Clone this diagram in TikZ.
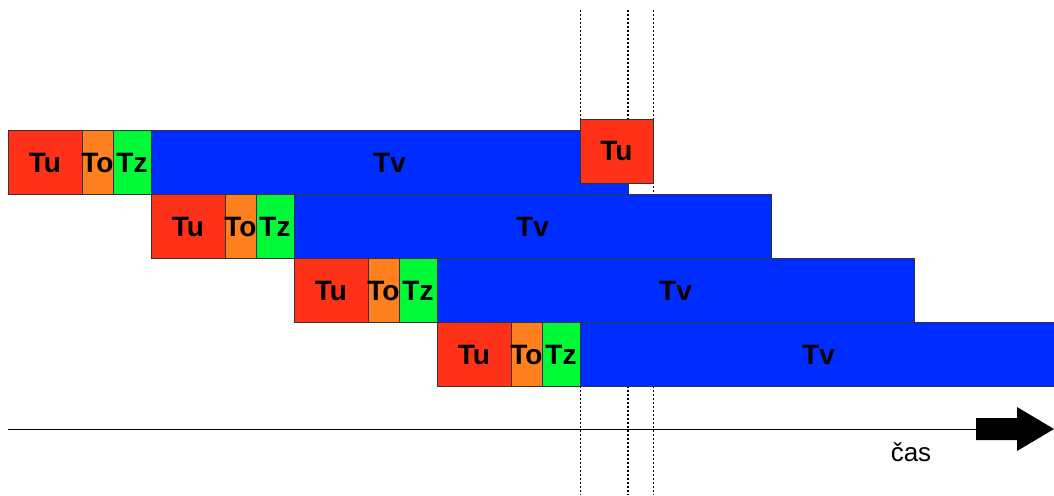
\documentclass[tikz,border=0pt]{standalone}
\usepackage{fontspec}
\setmainfont{Liberation Sans}
\usetikzlibrary{positioning,backgrounds}

\definecolor{phU}{RGB}{255,50,25}
\definecolor{phO}{RGB}{255,128,30}
\definecolor{phZ}{RGB}{0,250,55}
\definecolor{phV}{RGB}{0,45,255}

\tikzset{
  seg/.style={draw=black!80, line width=0.5pt, minimum height=32pt,
    inner sep=0pt, outer sep=0pt, font=\bfseries\fontsize{14}{16}\selectfont},
  phaseU/.style={seg, fill=phU, minimum width=37pt},
  phaseO/.style={seg, fill=phO, minimum width=15.5pt},
  phaseZ/.style={seg, fill=phZ, minimum width=19pt},
  phaseV/.style={seg, fill=phV, minimum width=238.5pt},
  guide/.style={line width=0.4pt, dash pattern=on 1pt off 1pt},
}
% label that may spill over a narrow box
\newcommand{\lbl}[1]{\makebox[0pt]{#1}}

\begin{document}
\begin{tikzpicture}[x=0.5pt, y=-0.5pt]
\useasboundingbox (0,0) rectangle (1054,495);
\clip (0,0) rectangle (1054,495);

% instruction 1
\node[phaseU, anchor=north west] (u1) at (8,130.5) {\lbl{Tu}};
\node[phaseO, right=0pt of u1] (o1) {\lbl{To}};
\node[phaseZ, right=0pt of o1] (z1) {\lbl{Tz}};
\node[phaseV, right=0pt of z1] (v1) {\lbl{Tv}};

% instruction 2
\node[phaseU, anchor=north west] (u2) at (z1.south east) {\lbl{Tu}};
\node[phaseO, right=0pt of u2] (o2) {\lbl{To}};
\node[phaseZ, right=0pt of o2] (z2) {\lbl{Tz}};
\node[phaseV, right=0pt of z2] (v2) {\lbl{Tv}};

% instruction 3
\node[phaseU, anchor=north west] (u3) at (z2.south east) {\lbl{Tu}};
\node[phaseO, right=0pt of u3] (o3) {\lbl{To}};
\node[phaseZ, right=0pt of o3] (z3) {\lbl{Tz}};
\node[phaseV, right=0pt of z3] (v3) {\lbl{Tv}};

% instruction 4
\node[phaseU, anchor=north west] (u4) at (z3.south east) {\lbl{Tu}};
\node[phaseO, right=0pt of u4] (o4) {\lbl{To}};
\node[phaseZ, right=0pt of o4] (z4) {\lbl{Tz}};
\node[phaseV, right=0pt of z4] (v4) {\lbl{Tv}};

% next fetch, lifted above the first row
\coordinate (lift) at (0,119);
\node[phaseU, anchor=north west, minimum width=36.5pt] (u5) at (z4.east |- lift) {\lbl{Tu}};

% time marks, behind the boxes
\coordinate (top) at (0,10);
\coordinate (bot) at (0,495);
\begin{pgfonlayer}{background}
\fill[white] (0,0) rectangle (1054,495);
\draw[guide] (z4.east |- top) -- (z4.east |- bot);
\draw[guide, line width=1pt] (v1.east |- top) -- (v1.east |- bot);
\draw[guide] (u5.east |- top) -- (u5.east |- bot);
\end{pgfonlayer}

% time axis
\coordinate (t0) at (8,429);
\coordinate (arr) at (976,429);
\draw[line width=0.5pt] (t0) -- (arr);
\fill[shift={(arr)}] (0,-11) -- (41,-11) -- (41,-22) -- (78,0) -- (41,22) -- (41,11) -- (0,11) -- cycle;
\node[font=\fontsize{13}{15}\selectfont] (cas) at (911,452) {čas};
\end{tikzpicture}
\end{document}
